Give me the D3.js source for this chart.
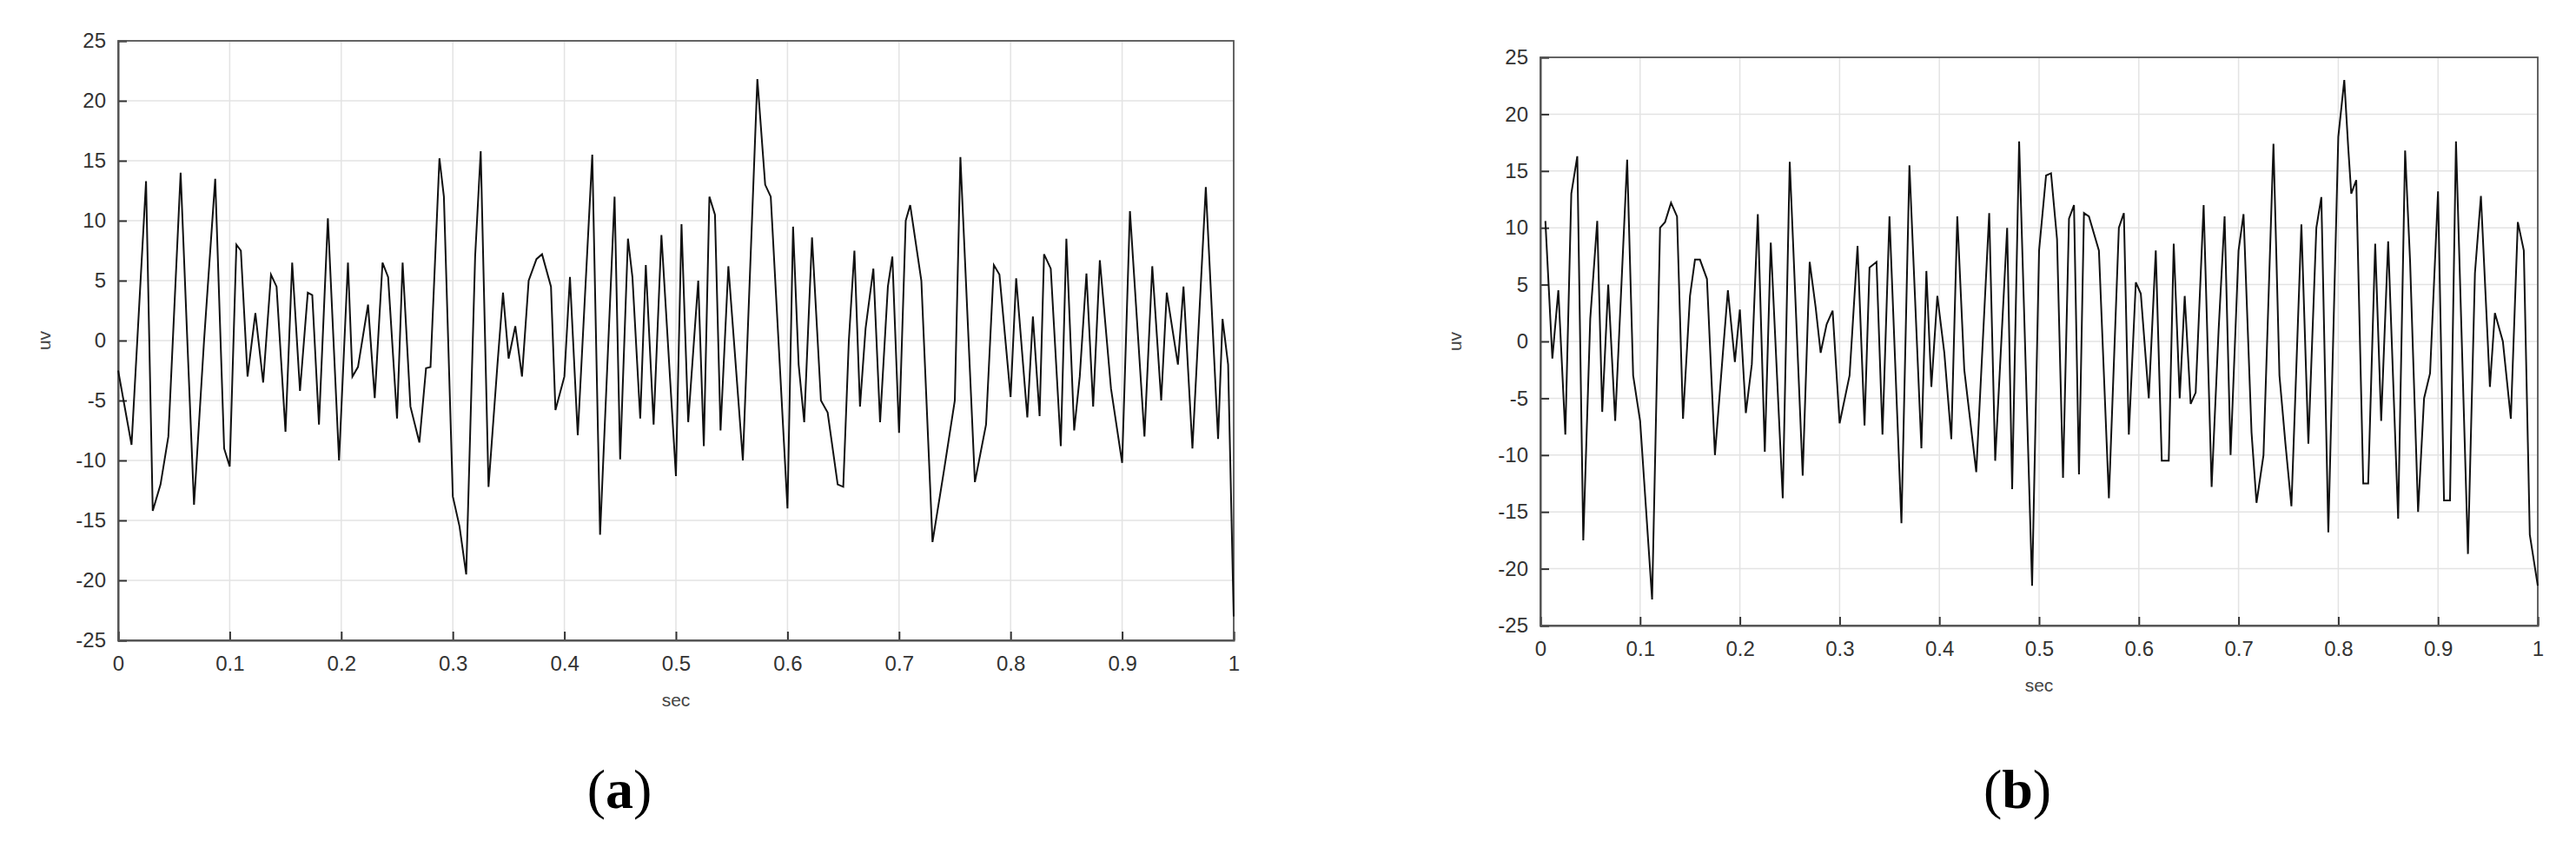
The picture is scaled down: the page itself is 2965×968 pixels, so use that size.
<!DOCTYPE html>
<html>
<head>
<meta charset="utf-8">
<script src="https://cdn.jsdelivr.net/npm/d3@7"></script>
<style>
body { margin: 0; background: #fff; }
.tick text { font-family: "Liberation Sans", Arial, sans-serif; font-size: 24px; fill: #333; }
.lbl { font-family: "Liberation Sans", Arial, sans-serif; font-size: 21px; fill: #444; }
.cap { font-family: "Liberation Serif", "DejaVu Serif", serif; font-size: 64px; fill: #000; }
</style>
</head>
<body>
<svg id="chart"></svg>
<script>
// DATA: panel (a)
var timeA = [0,0.012,0.025,0.031,0.038,0.045,0.056,0.062,0.068,0.077,0.087,0.095,0.1,0.106,0.11,0.116,0.123,0.13,0.137,0.142,0.15,0.156,0.163,0.17,0.174,0.18,0.188,0.198,0.206,0.21,0.215,0.224,0.23,0.237,0.242,0.25,0.255,0.262,0.27,0.276,0.28,0.288,0.292,0.3,0.306,0.312,0.32,0.325,0.332,0.34,0.345,0.35,0.356,0.362,0.368,0.375,0.38,0.388,0.392,0.4,0.405,0.412,0.425,0.432,0.445,0.45,0.457,0.461,0.468,0.473,0.48,0.487,0.5,0.505,0.511,0.52,0.525,0.53,0.535,0.54,0.547,0.56,0.573,0.58,0.585,0.6,0.605,0.61,0.615,0.622,0.63,0.636,0.645,0.65,0.655,0.66,0.665,0.67,0.677,0.683,0.69,0.694,0.7,0.706,0.71,0.72,0.73,0.74,0.75,0.755,0.768,0.778,0.785,0.79,0.8,0.805,0.815,0.82,0.826,0.83,0.836,0.845,0.85,0.857,0.862,0.868,0.874,0.88,0.89,0.9,0.907,0.92,0.927,0.935,0.94,0.95,0.955,0.963,0.975,0.986,0.99,0.995,1.0];
var valueA = [-2.5,-8.7,13.3,-14.2,-12,-8,14,0,-13.7,0,13.5,-9,-10.5,8,7.5,-3,2.3,-3.5,5.5,4.5,-7.6,6.5,-4.2,4,3.8,-7,10.2,-10,6.5,-3,-2.2,3,-4.8,6.5,5.3,-6.5,6.5,-5.5,-8.5,-2.3,-2.2,15.2,12,-13,-15.5,-19.5,7,15.8,-12.2,-2,4,-1.5,1.2,-3,5,6.8,7.2,4.5,-5.8,-3,5.3,-7.9,15.5,-16.2,12,-9.9,8.5,5.3,-6.5,6.3,-7,8.8,-11.3,9.7,-6.8,5,-8.8,12,10.5,-7.5,6.2,-10,21.8,13,12,-14,9.5,-2,-6.8,8.6,-5,-6,-12,-12.2,0,7.5,-5.5,1,6,-6.8,4.5,7,-7.7,10,11.3,5,-16.8,-11,-5,15.3,-11.8,-7,6.3,5.5,-4.7,5.2,-6.4,2,-6.3,7.2,6,-8.8,8.5,-7.5,-3,5.6,-5.5,6.7,-4,-10.2,10.8,-8,6.2,-5,4,-2,4.5,-9,12.8,-8.2,1.8,-2,-23];

// DATA: panel (b)
var timeB = [0.005,0.012,0.018,0.025,0.031,0.037,0.043,0.05,0.057,0.062,0.068,0.075,0.087,0.093,0.1,0.112,0.12,0.125,0.131,0.137,0.143,0.15,0.155,0.16,0.167,0.175,0.183,0.188,0.195,0.2,0.206,0.212,0.218,0.225,0.231,0.243,0.25,0.263,0.27,0.276,0.281,0.287,0.293,0.3,0.31,0.318,0.325,0.33,0.337,0.343,0.35,0.362,0.37,0.382,0.387,0.392,0.398,0.405,0.412,0.418,0.425,0.437,0.45,0.456,0.468,0.473,0.48,0.493,0.5,0.507,0.512,0.518,0.524,0.53,0.535,0.54,0.545,0.55,0.56,0.57,0.58,0.585,0.59,0.597,0.602,0.61,0.617,0.623,0.63,0.635,0.641,0.646,0.652,0.657,0.665,0.673,0.68,0.686,0.692,0.7,0.705,0.713,0.718,0.725,0.735,0.741,0.747,0.753,0.763,0.77,0.778,0.783,0.79,0.8,0.806,0.81,0.813,0.818,0.825,0.83,0.837,0.843,0.85,0.86,0.867,0.872,0.88,0.886,0.892,0.9,0.906,0.912,0.918,0.93,0.937,0.943,0.952,0.957,0.965,0.973,0.98,0.986,0.992,1.0];
var valueB = [10.6,-1.5,4.5,-8.2,13,16.3,-17.5,2,10.6,-6.2,5,-7,16,-3,-7,-22.7,10,10.5,12.2,11,-6.8,4,7.2,7.2,5.5,-10,-1,4.5,-1.8,2.8,-6.3,-2,11.2,-9.7,8.7,-13.8,15.8,-11.8,7,3,-1,1.5,2.7,-7.2,-3,8.4,-7.4,6.5,7,-8.2,11,-16,15.5,-9.4,6.2,-4,4,-1,-8.6,11,-2.5,-11.5,11.3,-10.5,10,-13,17.6,-21.5,8,14.6,14.8,9,-12,10.8,12,-11.7,11.3,11,8,-13.8,10,11.3,-8.2,5.2,4.2,-5,8,-10.5,-10.5,8.6,-5,4,-5.5,-4.5,12,-12.8,1,11,-10,8,11.2,-8,-14.2,-10,17.4,-3,-9,-14.5,10.3,-9,10,12.7,-16.8,18,23,17,13,14.2,-12.5,-12.5,8.6,-7,8.8,-15.6,16.8,7,-15,-5,-2.8,13.2,-14,-14,17.6,-18.7,6,12.8,-4,2.5,0,-6.8,10.5,8,-17,-21.5];

var xTicks = [0,0.1,0.2,0.3,0.4,0.5,0.6,0.7,0.8,0.9,1];
var yTicks = [-25,-20,-15,-10,-5,0,5,10,15,20,25];

var svg = d3.select("#chart").attr("width", 2965).attr("height", 968);

var panels = [
	{t: timeA, v: valueA, left: 136, right: 1420, top: 47, bottom: 737, cap: "a", ylab: 58, capX: 713},
	{t: timeB, v: valueB, left: 1773, right: 2921, top: 66, bottom: 720, cap: "b", ylab: 1682, capX: 2322}
];

panels.forEach(function(p) {
	var x = d3.scaleLinear().domain([0, 1]).range([p.left, p.right]);
	var y = d3.scaleLinear().domain([-25, 25]).range([p.bottom, p.top]);
	var g = svg.append("g");

	// GRID
	g.selectAll(".gx").data(xTicks).enter().append("line")
		.attr("x1", d => x(d)).attr("x2", d => x(d))
		.attr("y1", p.top).attr("y2", p.bottom)
		.style("stroke", "#e3e3e3").style("stroke-width", 1.5);
	g.selectAll(".gy").data(yTicks).enter().append("line")
		.attr("x1", p.left).attr("x2", p.right)
		.attr("y1", d => y(d)).attr("y2", d => y(d))
		.style("stroke", "#e3e3e3").style("stroke-width", 1.5);

	// AXES
	var xa = g.append("g").attr("transform", "translate(0," + p.bottom + ")")
		.call(d3.axisBottom(x).tickValues(xTicks).tickFormat(d => String(d)).tickSize(-10).tickPadding(18));
	var ya = g.append("g").attr("transform", "translate(" + p.left + ",0)")
		.call(d3.axisLeft(y).tickValues(yTicks).tickFormat(d => String(d)).tickSize(-10).tickPadding(14));
	[xa, ya].forEach(function(a) {
		a.select(".domain").style("stroke", "#444").style("stroke-width", 2);
		a.selectAll(".tick line").style("stroke", "#333").style("stroke-width", 2);
	});
	g.append("rect").attr("x", p.left).attr("y", p.top)
		.attr("width", p.right - p.left).attr("height", p.bottom - p.top)
		.style("fill", "none").style("stroke", "#555").style("stroke-width", 1.8);

	// SIGNAL
	var line = d3.line().x((d, i) => x(p.t[i])).y(d => y(d));
	g.append("path").datum(p.v).attr("d", line)
		.style("fill", "none").style("stroke", "#111").style("stroke-width", 2);

	// LABELS
	g.append("text").attr("class", "lbl").attr("x", (p.left + p.right) / 2).attr("y", p.bottom + 76)
		.attr("text-anchor", "middle").text("sec");
	g.append("text").attr("class", "lbl")
		.attr("transform", "translate(" + p.ylab + "," + y(0) + ") rotate(-90)")
		.attr("text-anchor", "middle").text("uv");
	var c = g.append("text").attr("class", "cap").attr("x", p.capX).attr("y", 930).attr("text-anchor", "middle");
	c.append("tspan").text("(");
	c.append("tspan").style("font-weight", "bold").text(p.cap);
	c.append("tspan").text(")");
});
</script>
</body>
</html>
